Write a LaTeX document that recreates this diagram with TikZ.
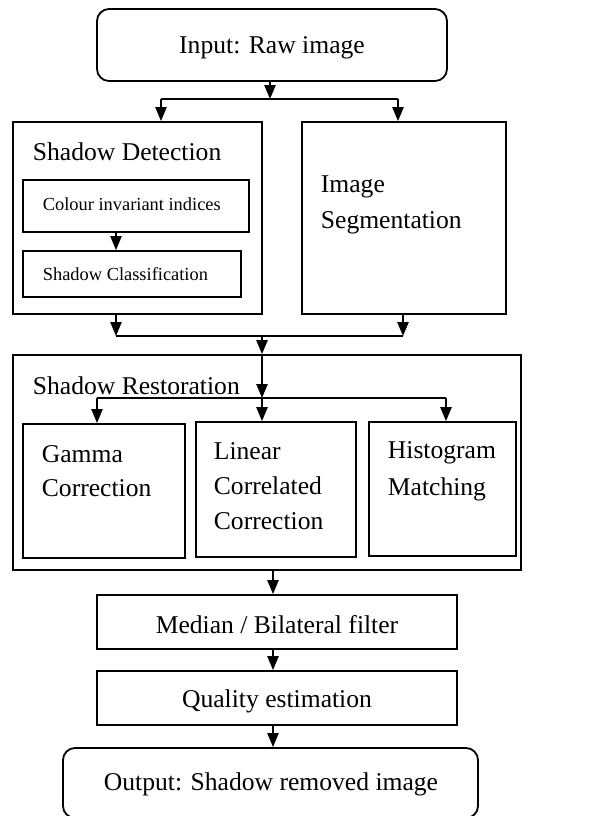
\documentclass[tikz,border=0pt]{standalone}
\usepackage{fontspec}
\setmainfont{Liberation Serif}
\usetikzlibrary{arrows.meta}
\begin{document}
\begin{tikzpicture}[x=0.5pt,y=-0.5pt,line width=0.9pt,
  box/.style={draw,rectangle,inner sep=0pt},
  rbox/.style={box,rounded corners=6pt},
  arr/.style={-{Triangle[width=5.6pt,length=7pt]}},
  big/.style={inner sep=0pt,font=\fontsize{12.8}{17.5}\selectfont},
  lbl/.style={big,anchor=base},
  ltxt/.style={big,anchor=base west,align=left},
  stxt/.style={inner sep=0pt,anchor=base west,font=\fontsize{9.2}{11}\selectfont}]
\useasboundingbox (0,0) rectangle (590,816);

% boxes
\node[rbox,minimum width=175pt,minimum height=36pt] (input) at (272,45) {};
\node[box,minimum width=124.5pt,minimum height=96pt] (detect) at (137.5,218) {};
\node[box,minimum width=102pt,minimum height=96pt] (seg) at (404,218) {};
\node[box,minimum width=113pt,minimum height=26pt] (colour) at (136,206) {};
\node[box,minimum width=109pt,minimum height=23pt] (classif) at (132,274) {};
\node[box,minimum width=254pt,minimum height=107.5pt] (restore) at (267,462.5) {};
\node[box,minimum width=81pt,minimum height=67pt] (gamma) at (104,491) {};
\node[box,minimum width=80pt,minimum height=67.5pt] (linear) at (276,489.5) {};
\node[box,minimum width=73.5pt,minimum height=67pt] (hist) at (442.5,489) {};
\node[box,minimum width=180pt,minimum height=27pt] (median) at (277,622) {};
\node[box,minimum width=180pt,minimum height=27pt] (quality) at (277,698) {};
\node[rbox,minimum width=207.5pt,minimum height=35pt] (output) at (270.5,783) {};

% labels
\node[lbl] (inputlbl) at (272,53) {Input: Raw image};
\node[ltxt] (detectlbl) at (32,160) {Shadow Detection};
\node[stxt] (colourlbl) at (42,210) {Colour invariant indices};
\node[stxt] (classiflbl) at (42,280) {Shadow Classification};
\node[ltxt] (seglbl1) at (320,192) {Image};
\node[ltxt] (seglbl2) at (320,228) {Segmentation};
\node[ltxt] (restorelbl) at (32,394) {Shadow Restoration};
\node[ltxt] (gammalbl1) at (41,462) {Gamma};
\node[ltxt] (gammalbl2) at (41,496) {Correction};
\node[ltxt] (linearlbl1) at (213,459) {Linear};
\node[ltxt] (linearlbl2) at (213,494) {Correlated};
\node[ltxt] (linearlbl3) at (213,529) {Correction};
\node[ltxt] (histlbl1) at (387,458) {Histogram};
\node[ltxt] (histlbl2) at (387,495) {Matching};
\node[lbl] (medianlbl) at (277,633) {Median / Bilateral filter};
\node[lbl] (qualitylbl) at (277,707) {Quality estimation};
\node[lbl] (outputlbl) at (271,790) {Output: Shadow removed image};

% junction points
\coordinate (j1) at (270,99);
\coordinate (j1l) at (161,99);
\coordinate (j1r) at (398,99);
\coordinate (a1) at (116,240);
\coordinate (j2) at (262,336);
\coordinate (j2l) at (116,336);
\coordinate (j2r) at (403,336);
\coordinate (j3) at (262,398);
\coordinate (j3l) at (97,398);
\coordinate (j3r) at (446,398);
\coordinate (a2) at (273,600);

% connectors
\draw[arr] (input.south -| j1) -- (j1);
\draw (j1l) -- (j1r);
\draw[arr] (j1l) -- (j1l |- detect.north);
\draw[arr] (j1r) -- (j1r |- seg.north);
\draw[arr] (colour.south -| a1) -- (classif.north -| a1);
\draw[arr] (detect.south -| j2l) -- (j2l);
\draw[arr] (seg.south -| j2r) -- (j2r);
\draw (j2l) -- (j2r);
\draw[arr] (j2) -- (restore.north -| j2);
\draw[arr] (restore.north -| j2) -- (j3);
\draw (j3l) -- (j3r);
\draw[arr] (j3l) -- (j3l |- gamma.north);
\draw[arr] (j3) -- (j3 |- linear.north);
\draw[arr] (j3r) -- (j3r |- hist.north);
\draw[arr] (restore.south -| a2) -- (median.north -| a2);
\draw[arr] (median.south -| a2) -- (quality.north -| a2);
\draw[arr] (quality.south -| a2) -- (output.north -| a2);
\end{tikzpicture}
\end{document}
